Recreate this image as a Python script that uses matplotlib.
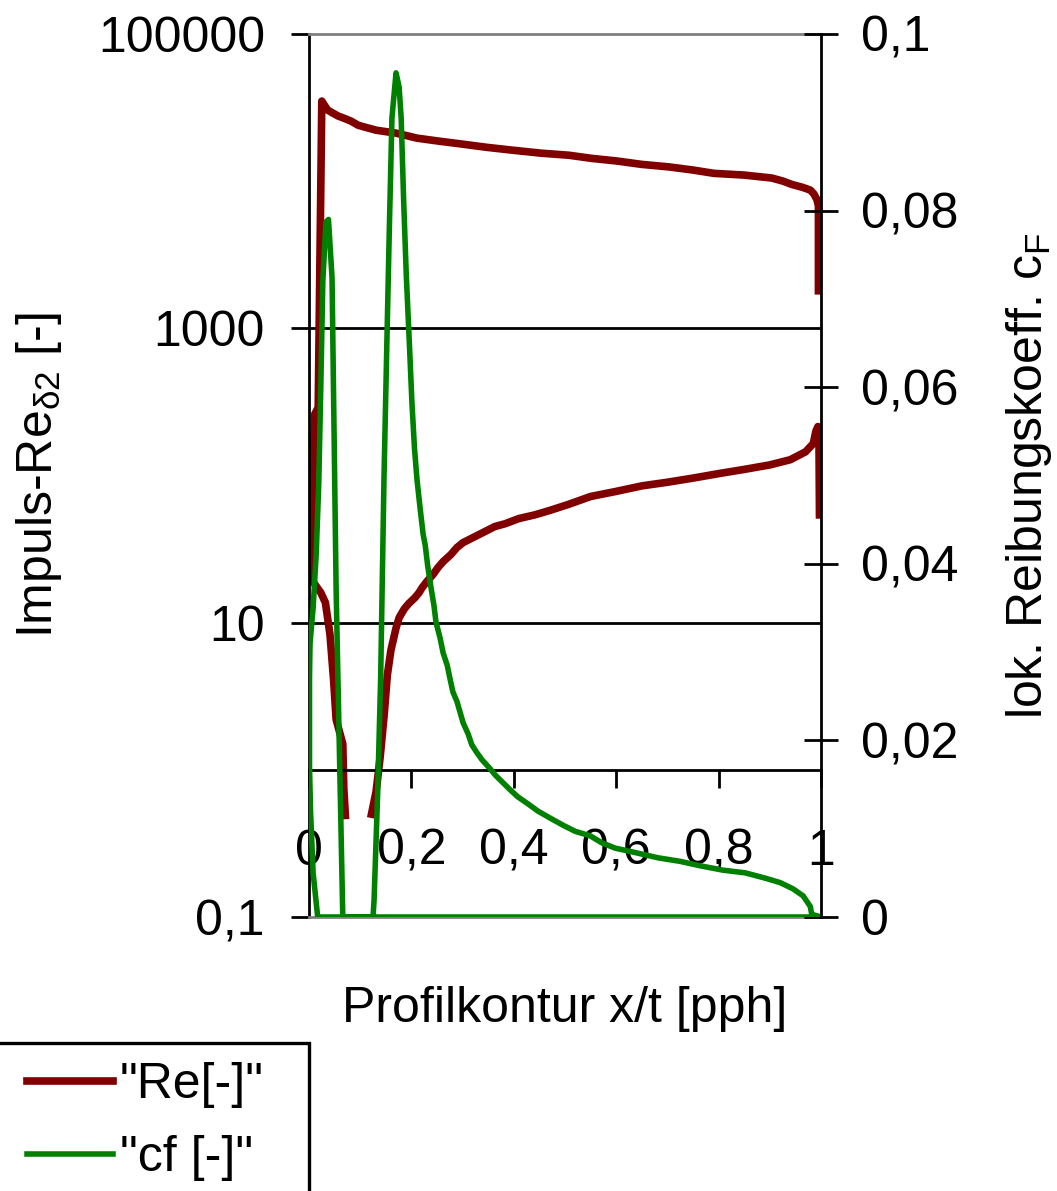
import numpy as np
import matplotlib
matplotlib.use('Agg')
import matplotlib.pyplot as plt
from matplotlib.ticker import FixedLocator, FuncFormatter, NullLocator
from matplotlib.patches import Rectangle

plt.rcParams['font.family'] = 'Liberation Sans'
plt.rcParams['font.size'] = 36
plt.rcParams['mathtext.fontset'] = 'custom'
plt.rcParams['mathtext.rm'] = 'Liberation Sans'

# Re_delta2, suction side from trailing edge to leading edge
x_re_upper = [0.995, 0.995, 0.992, 0.986, 0.979, 0.963, 0.943, 0.926, 0.904, 0.850,
              0.791, 0.750, 0.703, 0.650, 0.602, 0.551, 0.508, 0.453, 0.393, 0.346,
              0.297, 0.254, 0.211, 0.170, 0.131, 0.109, 0.096, 0.082, 0.068, 0.057,
              0.045, 0.036, 0.025, 0.018, 0.011, 0.004, 0.003]
re_upper = [1800, 6800, 7500, 8200, 8700, 9100, 9500, 10000, 10500, 11000,
            11300, 11900, 12500, 13000, 13700, 14300, 15000, 15500, 16300, 17000,
            17900, 18700, 19600, 21200, 22200, 23300, 24000, 25600, 26800, 27700,
            29200, 30500, 35000, 290, 260, 37, 20]

# pressure side from leading edge to trailing edge (nan = no positive value)
x_re_lower = [0.023, 0.032, 0.041, 0.048, 0.053, 0.066, 0.068, 0.071, np.nan, 0.122,
              0.131, 0.139, 0.147, 0.153, 0.160, 0.170, 0.176, 0.186, 0.195, 0.207,
              0.215, 0.221, 0.230, 0.242, 0.252, 0.262, 0.277, 0.289, 0.301, 0.320,
              0.340, 0.363, 0.383, 0.410, 0.441, 0.471, 0.506, 0.55, 0.6, 0.65,
              0.7, 0.75, 0.8, 0.85, 0.9, 0.94, 0.97, 0.985, 0.99, 0.994,
              0.996, 0.997]
re_lower = [16, 13.7, 8.3, 4.1, 2.2, 1.5, 0.75, 0.49, np.nan, 0.5,
            0.71, 1.22, 2.4, 4.4, 6.5, 9.2, 10.8, 12.4, 13.5, 14.8,
            16.0, 17.3, 19.0, 21.2, 23.7, 26.0, 29.0, 32.4, 35.0, 37.8,
            41, 45, 47, 51, 54, 58, 63.5, 72, 78, 85,
            90, 96, 103, 110, 118, 128, 145, 165, 200, 215,
            190, 54]

# local skin friction coefficient, same point order
x_cf = [1.0, 0.037, 0.017, 0.008, 0.003, 0.001, 0.001, 0.002, 0.008, 0.014,
        0.019, 0.023, 0.027, 0.033, 0.038, 0.045, 0.053, 0.066, 0.125, 0.127,
        0.134, 0.140, 0.1465, 0.152, 0.157, 0.162, 0.170, 0.176, 0.180, 0.185,
        0.190, 0.196, 0.201, 0.206, 0.211, 0.217, 0.223, 0.227, 0.232, 0.238,
        0.244, 0.248, 0.256, 0.262, 0.270, 0.275, 0.281, 0.289, 0.295, 0.301,
        0.311, 0.318, 0.328, 0.338, 0.352, 0.365, 0.379, 0.393, 0.408, 0.428,
        0.447, 0.471, 0.496, 0.520, 0.549, 0.572, 0.598, 0.637, 0.682, 0.725,
        0.764, 0.809, 0.852, 0.891, 0.920, 0.945, 0.965, 0.979, 0.982, 1.0]
cf = [0, 0, 0, 0.005, 0.012, 0.017, 0.027, 0.031, 0.035, 0.041,
      0.049, 0.060, 0.072, 0.0787, 0.079, 0.0724, 0.037, 0, 0, 0.0018,
      0.0138, 0.0272, 0.0498, 0.0648, 0.0782, 0.0905, 0.0956, 0.094, 0.0905, 0.0809,
      0.0727, 0.065, 0.0583, 0.0531, 0.0495, 0.0463, 0.0433, 0.0421, 0.0397, 0.0374,
      0.0353, 0.0334, 0.0316, 0.0299, 0.0285, 0.0271, 0.0255, 0.0244, 0.0232, 0.0220,
      0.0207, 0.0195, 0.0186, 0.0178, 0.0169, 0.0160, 0.0152, 0.0144, 0.0136, 0.0128,
      0.0120, 0.0112, 0.0104, 0.0097, 0.0092, 0.0084, 0.0078, 0.0073, 0.0067, 0.0063,
      0.0058, 0.0053, 0.0050, 0.0044, 0.0039, 0.0032, 0.0024, 0.0012, 0.0003, 0]

re_ticks = [0.1, 10, 1000, 100000]
cf_ticks = [0, 0.02, 0.04, 0.06, 0.08, 0.1]
x_ticks = [0, 0.2, 0.4, 0.6, 0.8, 1]
legend_labels = ['"Re[-]"', '"cf [-]"']

RED = '#800000'
GREEN = '#008000'
GRAY = '#808080'


def komma(v, pos=None):
    # German decimal comma
    return f'{v:g}'.replace('.', ',')


fig = plt.figure(figsize=(10.57, 11.91), dpi=100)
ax = fig.add_axes([309 / 1057, 1 - 917 / 1191, 512 / 1057, 883 / 1191])
ax2 = ax.twinx()

# primary axis: Re, log scale
ax.set_yscale('log')
ax.set_xlim(0, 1)
ax.set_ylim(0.1, 1e5)
ax.yaxis.set_major_locator(FixedLocator(re_ticks))
ax.yaxis.set_minor_locator(NullLocator())
ax.yaxis.set_major_formatter(FuncFormatter(komma))
ax.xaxis.set_major_locator(FixedLocator(x_ticks))
ax.xaxis.set_major_formatter(FuncFormatter(komma))
ax.tick_params(axis='y', direction='out', length=13, width=2, pad=18.7)
ax.tick_params(axis='x', direction='out', length=13, width=2, pad=29.5)
for v in re_ticks[1:-1]:
    ax.axhline(v, color='black', lw=2, zorder=1)

# x axis crosses at Re = 1
ax.spines['bottom'].set_position(('data', 1))
ax.spines['bottom'].set_linewidth(2)
ax.spines['left'].set_linewidth(2)
ax.spines['top'].set_visible(False)
ax.spines['right'].set_visible(False)

x_re = x_re_upper + x_re_lower
re_all = re_upper + re_lower
l_re, = ax.plot(x_re, re_all, color=RED, lw=5.5, zorder=2)

# secondary axis: cf
ax2.set_ylim(0, 0.1)
ax2.yaxis.set_major_locator(FixedLocator(cf_ticks))
ax2.yaxis.set_major_formatter(FuncFormatter(komma))
ax2.tick_params(axis='y', direction='inout', length=24.5, width=2, pad=16.6)
ax2.spines['left'].set_visible(False)
ax2.spines['right'].set_linewidth(2)
for s in ['top', 'bottom']:
    ax2.spines[s].set_color(GRAY)
    ax2.spines[s].set_linewidth(2)
    ax2.spines[s].set_zorder(1.5)

l_cf, = ax2.plot(x_cf, cf, color=GREEN, lw=4, zorder=2)

# axis titles
ax.set_ylabel(r'Impuls-Re$_\mathregular{δ2}$ [-]', va='baseline')
ax.yaxis.set_label_coords(-0.502, 0.5)
ax2.set_ylabel(r'lok. Reibungskoeff. c$_\mathregular{F}$', va='baseline')
ax2.yaxis.set_label_coords(1.4316, 0.5)
ax.set_xlabel('Profilkontur x/t [pph]', va='baseline')
ax.xaxis.set_label_coords(0.5, -0.1189)

# legend with a box that runs off the lower left corner
fig.legend([l_re, l_cf], legend_labels, loc='upper left',
           bbox_to_anchor=(27 / 1057, 1 - 1062 / 1191),
           frameon=False, borderpad=0, borderaxespad=0,
           handlelength=1.72, handletextpad=0.14, labelspacing=0.54,
           fontsize=36)
fig.add_artist(Rectangle((-10 / 1057, -0.02), 319 / 1057, 0.02 + (1191 - 1043.3) / 1191,
                         transform=fig.transFigure, fill=False,
                         edgecolor='black', lw=2.4, clip_on=False))

fig.savefig('out.png', dpi=100)
